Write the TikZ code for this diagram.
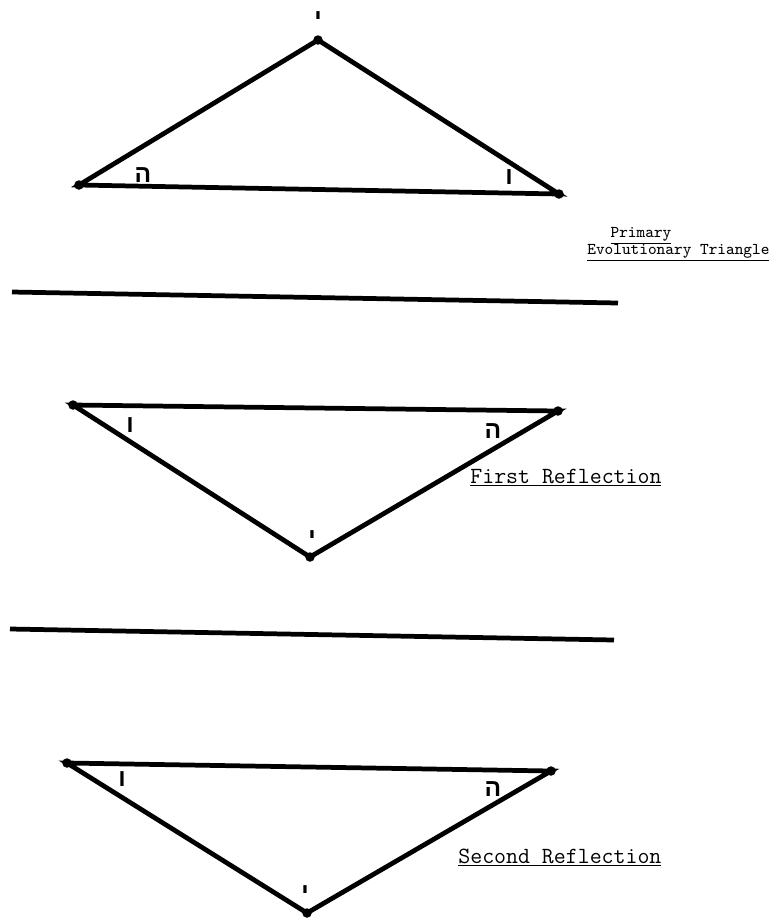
\documentclass[tikz,border=0pt]{standalone}
\usepackage{fontspec}
\newfontfamily\hebfont[Script=Hebrew]{Liberation Sans}

\begin{document}
\begin{tikzpicture}[x=0.02cm, y=-0.02cm, line width=2.7pt,
    vdot/.style={circle, fill, inner sep=0pt, minimum size=0.19cm},
    heb/.style={font=\hebfont\bfseries\fontsize{14}{14}\selectfont},
    smalltag/.style={font=\ttfamily\fontsize{9.4}{10}\selectfont, inner sep=0pt},
    bigtag/.style={font=\ttfamily\fontsize{13.2}{14}\selectfont, inner sep=0pt}]
  \useasboundingbox (0,0) rectangle (773,921);

  % primary triangle
  \node[vdot] (pl) at (79,185) {};
  \node[vdot] (pt) at (318,40) {};
  \node[vdot] (pr) at (559,194) {};
  \draw (pl.center) -- (pt.center) -- (pr.center) -- cycle;
  \node[heb] (ph) at (143,175) {ה};
  \node[heb] (pv) at (509,177) {ו};
  \node[heb] (py) at (318,19) {י};
  \node[smalltag, anchor=base] (prim) at (641,237) {\underline{Primary}};
  \node[smalltag, anchor=base west] (evo) at (585,254) {\underline{Evolutionary Triangle}};

  % divider 1
  \coordinate (d1a) at (12,292);
  \coordinate (d1b) at (618,303);
  \draw (d1a) -- (d1b);

  % first reflection
  \node[vdot] (fl) at (73,405) {};
  \node[vdot] (fr) at (558,411) {};
  \node[vdot] (fb) at (310,557) {};
  \draw (fl.center) -- (fr.center) -- (fb.center) -- cycle;
  \node[heb] (fv) at (130,425) {ו};
  \node[heb] (fh) at (493,431) {ה};
  \node[heb] (fy) at (312,538) {י};
  \node[bigtag, anchor=base west] (first) at (468,483) {\underline{First Reflection}};

  % divider 2
  \coordinate (d2a) at (10,629);
  \coordinate (d2b) at (614,640);
  \draw (d2a) -- (d2b);

  % second reflection
  \node[vdot] (sl) at (67,763) {};
  \node[vdot] (sr) at (551,771) {};
  \node[vdot] (sb) at (307,913) {};
  \draw (sl.center) -- (sr.center) -- (sb.center) -- cycle;
  \node[heb] (sv) at (122,779) {ו};
  \node[heb] (sh) at (493,789) {ה};
  \node[heb] (sy) at (305,893) {י};
  \node[bigtag, anchor=base west] (second) at (456,863) {\underline{Second Reflection}};
\end{tikzpicture}
\end{document}
